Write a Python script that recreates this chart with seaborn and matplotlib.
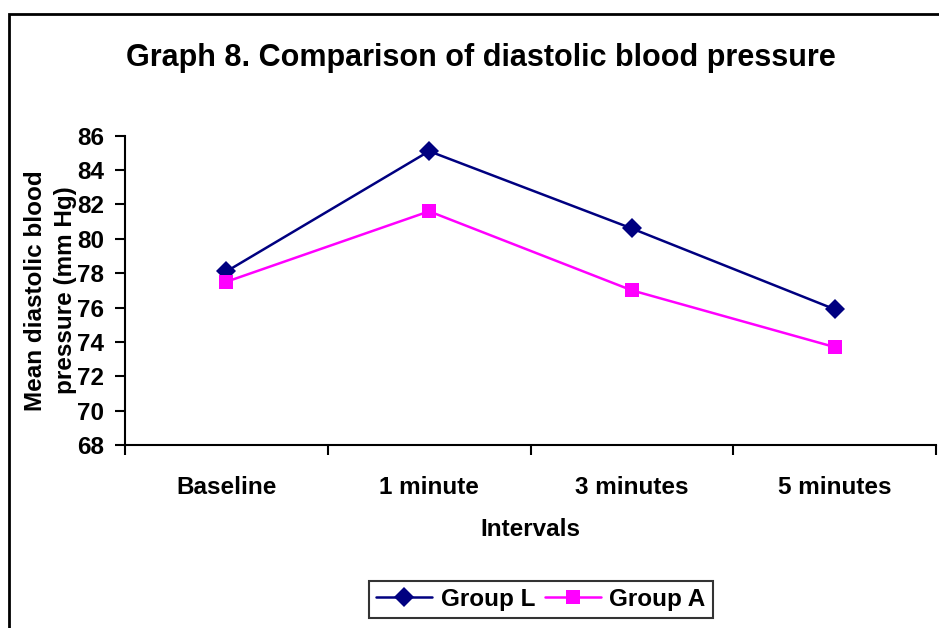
import matplotlib
matplotlib.use("Agg")
import matplotlib.pyplot as plt
import matplotlib.patches as mpatches
import seaborn as sns
import pandas as pd
import numpy as np

categories = ["Baseline", "1 minute", "3 minutes", "5 minutes"]
group_l = [78.1, 85.1, 80.6, 75.9]
group_a = [77.5, 81.6, 77.0, 73.7]
y_ticks = [68, 70, 72, 74, 76, 78, 80, 82, 84, 86]

df = pd.DataFrame({
    "Interval": categories * 2,
    "Value": group_l + group_a,
    "Group": ["Group L"] * 4 + ["Group A"] * 4,
})

sns.set_theme(style="white")
plt.rcParams['font.family'] = ['Liberation Sans', 'DejaVu Sans']
plt.rcParams['font.weight'] = 'bold'
plt.rcParams['text.color'] = 'black'
plt.rcParams['axes.labelcolor'] = 'black'
plt.rcParams['xtick.color'] = 'black'
plt.rcParams['ytick.color'] = 'black'

FS = 17.5

fig = plt.figure(figsize=(9.39, 6.28), dpi=100)
ax = fig.add_axes([125/939, 1 - 445/628, (936-125)/939, (445-135.7)/628])

palette = {"Group L": "#000080", "Group A": "#FF00FF"}
markers = {"Group L": "D", "Group A": "s"}
sns.lineplot(data=df, x="Interval", y="Value", hue="Group", style="Group",
             palette=palette, markers=markers, dashes=False, sort=False,
             linewidth=1.8, markersize=10, markeredgewidth=0, ax=ax, legend=True)

ax.set_ylim(68, 86)
ax.set_yticks(y_ticks)
ax.set_yticklabels([str(t) for t in y_ticks], fontsize=FS, fontweight='bold')
ax.set_xlim(-0.5, 3.5)
ax.set_xticks(np.arange(-0.5, 4.0, 1.0))
ax.set_xticklabels([])
ax.set_xticks(range(len(categories)), minor=True)
ax.set_xticklabels(categories, minor=True, fontsize=FS, fontweight='bold')
ax.tick_params(axis='x', which='minor', length=0, pad=22, bottom=True)
ax.tick_params(axis='both', which='major', direction='out', length=7, width=1.5,
               color='black', bottom=True, left=True)
ax.tick_params(axis='y', pad=8)

for s in ["top", "right"]:
    ax.spines[s].set_visible(False)
for s in ["left", "bottom"]:
    ax.spines[s].set_color("black")
    ax.spines[s].set_linewidth(1.5)

ax.set_xlabel("Intervals", fontsize=FS, fontweight='bold', labelpad=14)
ax.set_ylabel("Mean diastolic blood\npressure (mm Hg)", fontsize=FS, fontweight='bold',
              labelpad=0, linespacing=1.4)

fig.text(481/939, 1 - 58/628, "Graph 8. Comparison of diastolic blood pressure",
         ha='center', va='center', fontsize=22, fontweight='bold')

handles, labels = ax.get_legend_handles_labels()
ax.get_legend().remove()
leg = fig.legend(handles, labels, loc='center', bbox_to_anchor=(541/939, 1 - 599.5/628),
                 ncol=2, frameon=True, fancybox=False,
                 handlelength=2.3, columnspacing=0.4, handletextpad=0.35,
                 borderpad=0.3, borderaxespad=0, prop={'weight': 'bold', 'size': FS})
leg.get_frame().set_edgecolor('black')
leg.get_frame().set_linewidth(1.5)

frame = mpatches.Rectangle((8.5/939, -0.1), 1.2, 1.1 - 14.5/628,
                           transform=fig.transFigure, fill=False,
                           edgecolor='black', linewidth=2, clip_on=False)
fig.patches.append(frame)

fig.savefig("out.png", dpi=100)
